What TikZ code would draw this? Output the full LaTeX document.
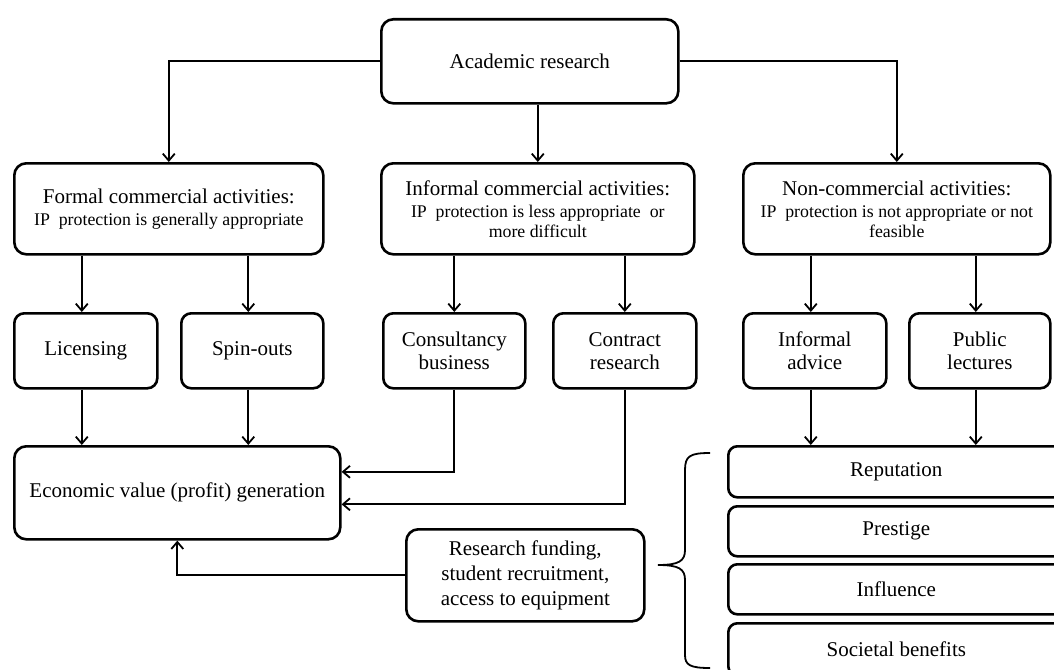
\documentclass[tikz,border=0pt]{standalone}
\usepackage{fontspec}
\setmainfont{Liberation Serif}
\usetikzlibrary{arrows.meta}
\newcommand\subf{\fontsize{17.8}{20}\selectfont}
\begin{document}
\begin{tikzpicture}[x=1pt,y=-1pt,
  box/.style={draw, line width=2.6pt, rounded corners=12pt, align=center, inner sep=0pt,
    anchor=north west, font=\fontsize{21}{23}\selectfont},
  smallbox/.style={box, rounded corners=10pt},
  stackbox/.style={box, rounded corners=9pt, minimum width=336pt},
  conn/.style={line width=1.8pt},
  arr/.style={conn, -{Straight Barb[length=7pt,width=12pt]}},
  brace/.style={line width=1.8pt}
]
\useasboundingbox (0,0) rectangle (1054,669);
\clip (0,0) rectangle (1054,669);

% top
\node[box, minimum width=297pt, minimum height=84pt] (ar) at (380,18) {Academic research};

% second row
\node[box, minimum width=309pt, minimum height=91pt] (formal) at (13,162)
  {Formal commercial activities:\\[-1pt]{\subf IP~ protection is generally appropriate}};
\node[box, minimum width=313pt, minimum height=91pt] (informal) at (380,162)
  {Informal commercial activities:\\[-1pt]{\subf IP~ protection is less appropriate~ or}\\[-3pt]{\subf more difficult}};
\node[box, minimum width=307pt, minimum height=91pt] (noncomm) at (742,162)
  {Non-commercial activities:\\[-1pt]{\subf IP~ protection is not appropriate or not}\\[-3pt]{\subf feasible}};

% third row
\node[smallbox, minimum width=143pt, minimum height=75pt] (licensing) at (13,312) {Licensing};
\node[smallbox, minimum width=142pt, minimum height=75pt] (spin) at (180,312) {Spin-outs};
\node[smallbox, minimum width=142pt, minimum height=75pt] (consult) at (382,312) {Consultancy\\business};
\node[smallbox, minimum width=143pt, minimum height=75pt] (contract) at (552,312) {Contract\\research};
\node[smallbox, minimum width=143pt, minimum height=75pt] (advice) at (742,312) {Informal\\advice};
\node[smallbox, minimum width=141pt, minimum height=75pt] (public) at (908,312) {Public\\lectures};

% bottom left
\node[box, minimum width=326pt, minimum height=93pt] (econ) at (13,445) {Economic value (profit) generation};
\node[box, minimum width=238pt, minimum height=92pt] (funding) at (405,528)
  {Research funding,\\[2pt]student recruitment,\\[2pt]access to equipment};

% stack
\node[stackbox, minimum height=51pt] (rep) at (727,445) {Reputation};
\node[stackbox, minimum height=50pt] (pres) at (727,505) {Prestige};
\node[stackbox, minimum height=50pt] (infl) at (727,563) {Influence};
\node[stackbox, minimum height=52pt] (soc) at (727,622) {Societal benefits};

% connectors from top
\draw[arr] (ar.west) -| (formal.north);
\draw[arr] (ar.east) -| (noncomm.north);
\draw[arr] (informal.north |- ar.south) -- (informal.north);

\coordinate (lt) at ([xshift=-4pt]licensing.north);
\coordinate (lb) at ([xshift=-4pt]licensing.south);
\coordinate (st) at ([xshift=-4pt]spin.north);
\coordinate (sb) at ([xshift=-4pt]spin.south);
\coordinate (at) at ([xshift=-4pt]advice.north);
\coordinate (ab) at ([xshift=-4pt]advice.south);
\coordinate (pt) at ([xshift=-4pt]public.north);
\coordinate (pb) at ([xshift=-4pt]public.south);

\draw[arr] (lt |- formal.south) -- (lt);
\draw[arr] (st |- formal.south) -- (st);
\draw[arr] (consult.north |- informal.south) -- (consult.north);
\draw[arr] (contract.north |- informal.south) -- (contract.north);
\draw[arr] (at |- noncomm.south) -- (at);
\draw[arr] (pt |- noncomm.south) -- (pt);

% to economic value
\draw[arr] (lb) -- (lb |- econ.north);
\draw[arr] (sb) -- (sb |- econ.north);
\draw[arr] (consult.south) |- ([yshift=21pt]econ.east);
\draw[arr] (contract.south) |- ([yshift=-11.5pt]econ.east);
\draw[arr] (funding.west) -| (econ.south);

% to reputation
\draw[arr] (ab) -- (ab |- rep.north);
\draw[arr] (pb) -- (pb |- rep.north);

% brace
\draw[brace] (710,453) .. controls (690,453) and (685,456) .. (685,470) -- (685,550)
  .. controls (685,561) and (679,565) .. (658,565)
  .. controls (679,565) and (685,569) .. (685,580) -- (685,655)
  .. controls (685,665) and (690,668) .. (710,668);
\end{tikzpicture}
\end{document}
